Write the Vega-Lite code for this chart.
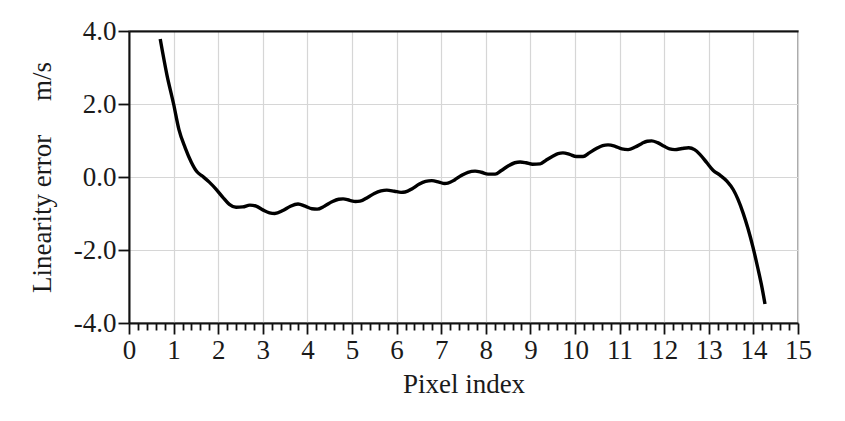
{
  "$schema": "https://vega.github.io/schema/vega-lite/v6.json",
  "width": 669,
  "height": 292,
  "autosize": {"type": "none"},
  "padding": {"left": 129, "top": 31, "right": 47, "bottom": 98},
  "background": "white",
  "config": {
    "view": {"stroke": "#8a8a8a", "strokeWidth": 1.5},
    "axis": {
      "labelFont": "Liberation Serif",
      "titleFont": "Liberation Serif",
      "labelFontSize": 27,
      "titleFontSize": 27,
      "labelColor": "#1a1a1a",
      "titleColor": "#1a1a1a",
      "titleFontWeight": "normal",
      "domainColor": "#111",
      "domainWidth": 2,
      "tickColor": "#111",
      "tickWidth": 1.8,
      "gridColor": "#d6d6d6",
      "gridWidth": 1.2
    }
  },
  "data": {
    "values": [
      {"x": 0.70, "y": 3.78}, {"x": 0.85, "y": 2.80}, {"x": 1.00, "y": 2.00},
      {"x": 1.12, "y": 1.30}, {"x": 1.26, "y": 0.80}, {"x": 1.40, "y": 0.40},
      {"x": 1.52, "y": 0.15}, {"x": 1.65, "y": 0.02}, {"x": 1.80, "y": -0.14},
      {"x": 1.95, "y": -0.33}, {"x": 2.10, "y": -0.55}, {"x": 2.25, "y": -0.75},
      {"x": 2.40, "y": -0.83}, {"x": 2.55, "y": -0.82}, {"x": 2.71, "y": -0.77},
      {"x": 2.85, "y": -0.80}, {"x": 3.00, "y": -0.90}, {"x": 3.15, "y": -0.98},
      {"x": 3.27, "y": -1.00}, {"x": 3.45, "y": -0.92}, {"x": 3.62, "y": -0.80},
      {"x": 3.79, "y": -0.74}, {"x": 3.95, "y": -0.80}, {"x": 4.10, "y": -0.87},
      {"x": 4.22, "y": -0.88}, {"x": 4.38, "y": -0.80}, {"x": 4.55, "y": -0.68},
      {"x": 4.70, "y": -0.61}, {"x": 4.80, "y": -0.60}, {"x": 4.95, "y": -0.64},
      {"x": 5.08, "y": -0.67}, {"x": 5.18, "y": -0.66}, {"x": 5.35, "y": -0.56},
      {"x": 5.50, "y": -0.45}, {"x": 5.65, "y": -0.38}, {"x": 5.78, "y": -0.36},
      {"x": 5.95, "y": -0.39}, {"x": 6.10, "y": -0.42}, {"x": 6.19, "y": -0.41},
      {"x": 6.35, "y": -0.32}, {"x": 6.50, "y": -0.20}, {"x": 6.65, "y": -0.12},
      {"x": 6.79, "y": -0.10}, {"x": 6.95, "y": -0.14}, {"x": 7.08, "y": -0.18},
      {"x": 7.15, "y": -0.17}, {"x": 7.30, "y": -0.08}, {"x": 7.45, "y": 0.04},
      {"x": 7.60, "y": 0.13}, {"x": 7.76, "y": 0.16}, {"x": 7.90, "y": 0.13},
      {"x": 8.05, "y": 0.08}, {"x": 8.21, "y": 0.08}, {"x": 8.35, "y": 0.18},
      {"x": 8.50, "y": 0.30}, {"x": 8.65, "y": 0.39}, {"x": 8.77, "y": 0.41},
      {"x": 8.90, "y": 0.39}, {"x": 9.05, "y": 0.35}, {"x": 9.22, "y": 0.36},
      {"x": 9.35, "y": 0.46}, {"x": 9.50, "y": 0.57}, {"x": 9.62, "y": 0.64},
      {"x": 9.73, "y": 0.66}, {"x": 9.88, "y": 0.62}, {"x": 10.03, "y": 0.56},
      {"x": 10.18, "y": 0.56}, {"x": 10.32, "y": 0.66}, {"x": 10.48, "y": 0.78},
      {"x": 10.62, "y": 0.86}, {"x": 10.74, "y": 0.88}, {"x": 10.90, "y": 0.84},
      {"x": 11.05, "y": 0.77}, {"x": 11.19, "y": 0.75}, {"x": 11.35, "y": 0.82},
      {"x": 11.50, "y": 0.92}, {"x": 11.62, "y": 0.98}, {"x": 11.72, "y": 0.99},
      {"x": 11.85, "y": 0.94}, {"x": 12.00, "y": 0.84}, {"x": 12.12, "y": 0.77},
      {"x": 12.24, "y": 0.75}, {"x": 12.40, "y": 0.78}, {"x": 12.55, "y": 0.80},
      {"x": 12.68, "y": 0.75}, {"x": 12.80, "y": 0.62}, {"x": 12.95, "y": 0.40},
      {"x": 13.10, "y": 0.18}, {"x": 13.25, "y": 0.05}, {"x": 13.41, "y": -0.12},
      {"x": 13.55, "y": -0.35}, {"x": 13.65, "y": -0.60}, {"x": 13.77, "y": -0.99},
      {"x": 13.88, "y": -1.42}, {"x": 13.99, "y": -1.92}, {"x": 14.10, "y": -2.50},
      {"x": 14.18, "y": -2.95}, {"x": 14.26, "y": -3.48}
    ]
  },
  "mark": {"type": "line", "color": "#000", "strokeWidth": 3.4, "interpolate": "monotone"},
  "encoding": {
    "x": {
      "field": "x",
      "type": "quantitative",
      "scale": {"domain": [0, 15], "nice": false, "zero": false},
      "axis": {
        "title": "Pixel index",
        "values": [0,0.2,0.4,0.6,0.8,1,1.2,1.4,1.6,1.8,2,2.2,2.4,2.6,2.8,3,3.2,3.4,3.6,3.8,4,4.2,4.4,4.6,4.8,5,5.2,5.4,5.6,5.8,6,6.2,6.4,6.6,6.8,7,7.2,7.4,7.6,7.8,8,8.2,8.4,8.6,8.8,9,9.2,9.4,9.6,9.8,10,10.2,10.4,10.6,10.8,11,11.2,11.4,11.6,11.8,12,12.2,12.4,12.6,12.8,13,13.2,13.4,13.6,13.8,14,14.2,14.4,14.6,14.8,15],
        "labelExpr": "abs(datum.value - round(datum.value)) < 0.01 ? format(round(datum.value), 'd') : ''",
        "labelOverlap": false,
        "labelFlush": false,
        "labelPadding": 3,
        "tickSize": {"condition": {"test": "abs(datum.value - round(datum.value)) < 0.01", "value": 11}, "value": 7},
        "gridOpacity": {"condition": {"test": "abs(datum.value - round(datum.value)) < 0.01", "value": 1}, "value": 0},
        "titlePadding": 8
      }
    },
    "y": {
      "field": "y",
      "type": "quantitative",
      "scale": {"domain": [-4, 4], "nice": false, "zero": false},
      "axis": {
        "title": "Linearity error\u00a0\u00a0\u00a0\u00a0\u00a0m/s",
        "values": [-4, -2, 0, 2, 4],
        "labelExpr": "(datum.value < 0 ? '-' : '') + format(abs(datum.value), '.1f')",
        "tickSize": 11,
        "labelPadding": 2,
        "labelFlush": false,
        "titlePadding": 17,
        "gridColor": {"condition": {"test": "datum.value == 4", "value": "#111"}, "value": "#d6d6d6"},
        "gridWidth": {"condition": {"test": "datum.value == 4", "value": 2}, "value": 1.2}
      }
    }
  }
}
